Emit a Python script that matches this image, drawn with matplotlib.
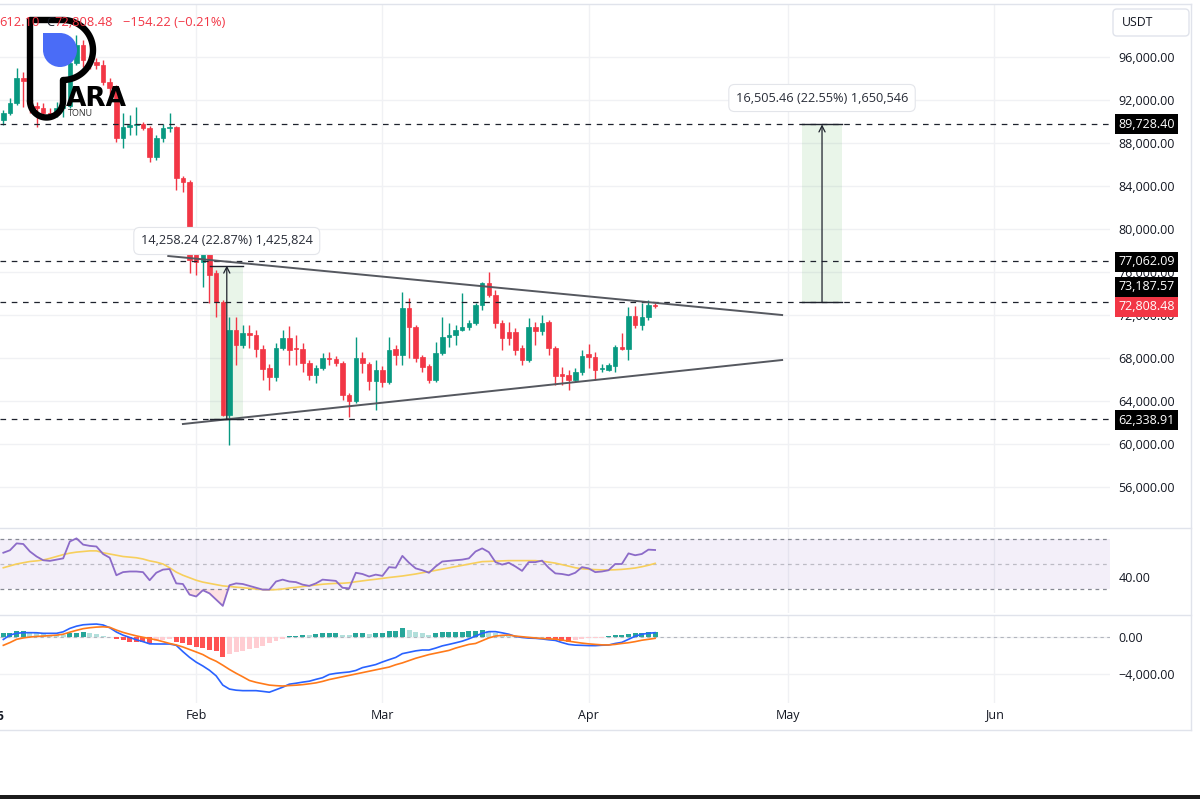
import datetime as dt
import matplotlib
matplotlib.use("Agg")
import matplotlib.pyplot as plt
import matplotlib.dates as mdates
import matplotlib.transforms as mtransforms
from matplotlib.patches import Rectangle, Circle, FancyBboxPatch
import numpy as np

plt.rcParams['font.family'] = ['Open Sans', 'DejaVu Sans']

# ---------------- data ----------------
start_date = dt.datetime(2026, 1, 3)

opens = [90140, 90791, 91721, 94047, 93768, 91400, 91256, 90791, 90700, 91256,
         91442, 95442, 97116, 95721, 95535, 95256, 93674, 93116, 88465, 89488,
         89700, 89800, 89395, 86698, 88465, 89395, 89488, 84744, 84372, 78791,
         76931, 78791, 75907, 73209, 62698, 70605, 69209, 70326, 70140, 68837,
         67070, 66233, 68930, 69860, 68930, 68837, 67535, 66419, 67070, 68000,
         67907, 67535, 64559, 63977, 68000, 67442, 65861, 66884, 65768, 68837,
         68279, 72652, 70884, 68093, 67256, 65954, 68465, 69953, 70140, 70605,
         70884, 71256, 72931, 74977, 73861, 71256, 70419, 70419, 68930, 67815,
         70884, 70512, 71349, 68930, 66512, 66419, 65954, 66698, 68372, 68093,
         66977, 66884, 67256, 69023, 68837, 71907, 71070, 71814, 72962.70]
highs = [91070, 92186, 94977, 94605, 94200, 91814, 91721, 91256, 91800, 92279,
         96372, 98046, 97581, 96000, 95900, 95721, 94047, 93395, 90791, 90605,
         91349, 89953, 89581, 88744, 89767, 90791, 89581, 84930, 84558, 79163,
         79163, 78977, 76187, 73396, 71814, 71814, 71070, 71070, 70605, 69209,
         67442, 69395, 70605, 70977, 70140, 69395, 67815, 67349, 68465, 68558,
         68186, 67721, 64745, 69953, 68558, 67628, 67815, 67256, 69953, 69209,
         74140, 73582, 71070, 68279, 67442, 69488, 71814, 71256, 71070, 74047,
         71536, 73116, 75070, 76001, 74326, 71536, 71349, 70791, 69209, 71721,
         71349, 71977, 71536, 69116, 67163, 66884, 67070, 68745, 69302, 68558,
         67442, 67535, 69209, 70326, 72745, 72838, 73116, 73396, 73100]
lows = [89674, 90605, 91535, 91349, 90800, 89488, 90419, 90419, 90400, 90419,
        91256, 95300, 95070, 94900, 94900, 93395, 92465, 88093, 87535, 88744,
        88744, 89209, 86233, 86419, 88093, 89023, 83628, 83442, 75907, 75721,
        74605, 73116, 71814, 62605, 59907, 67349, 68930, 68930, 68093, 65954,
        65024, 65861, 68745, 67349, 67349, 66698, 65954, 65675, 66884, 67349,
        67256, 64094, 62512, 63814, 66605, 65024, 63164, 65303, 65582, 67349,
        67349, 68000, 67628, 66698, 65675, 65768, 68279, 69023, 69209, 70512,
        70605, 71070, 72466, 73675, 70791, 68745, 69209, 68279, 67349, 67628,
        69209, 70140, 68279, 65489, 65489, 65024, 65768, 66419, 67070, 65954,
        66698, 66791, 66698, 68745, 67815, 70791, 70605, 71536, 72612.10]
closes = [90791, 91721, 94047, 93768, 91400, 91256, 90791, 90700, 91256, 91442,
          95442, 97116, 95721, 95535, 95256, 93674, 93116, 88465, 89488, 89700,
          89800, 89395, 86698, 88465, 89395, 89488, 84744, 84372, 77117, 76931,
          78791, 75721, 73209, 62698, 70605, 69209, 70326, 70140, 68837, 66977,
          66233, 68930, 69860, 68745, 68837, 67535, 66419, 67070, 68000, 67907,
          67535, 64559, 63977, 68000, 67535, 65861, 66884, 65768, 68745, 68279,
          72652, 70884, 68000, 67163, 65954, 68465, 69953, 70140, 70605, 70884,
          71256, 72931, 74977, 73861, 71256, 69860, 69860, 68745, 67815, 70884,
          70512, 71256, 68930, 66326, 66326, 65954, 66698, 68186, 68093, 66884,
          67070, 67349, 69070, 68837, 71907, 71070, 71814, 72962.70, 72808.48]

rsi = [59, 61, 66.5, 66, 60, 56, 53, 52.5, 53.5, 54.5,
       68, 70.5, 65.5, 64.5, 64, 58, 55, 41, 43.5, 44,
       44, 43.5, 37, 43, 45.5, 46, 34.5, 34, 25.5, 24,
       29, 26.5, 21.5, 16.5, 33, 34.5, 34, 32.5, 31, 29.5,
       29.5, 36, 37.5, 36, 35.5, 33.5, 32.5, 34.5, 37.5, 37,
       36.5, 31, 30.5, 43, 42, 40, 41.5, 40.5, 47.5, 47,
       56.5, 51, 46.5, 45, 43, 48, 52, 52.5, 53, 53.5,
       54.5, 60, 62.5, 59.5, 51.5, 49.5, 51, 48, 44.5, 51.5,
       51.5, 52.7, 47, 42.5, 42, 41, 43, 47.5, 46.5, 43.5,
       44, 45, 50, 50, 58.5, 57, 58, 61.5, 61.2]
rsi_ma = [47, 48.5, 50, 51, 52, 52.5, 53.2, 54.5, 56, 57.5,
          58.7, 59.5, 60, 60.5, 60.5, 59, 58, 57, 56, 55.5,
          55, 54, 52.5, 51.5, 50, 47, 43.5, 41, 39, 37,
          35.5, 34.5, 33.5, 32.5, 32, 31.5, 31, 30.5, 30, 29.5,
          29.3, 29.5, 30, 30.8, 31.3, 32, 32.6, 33.2, 33.8, 34.2,
          34.5, 34.6, 35, 35.8, 36.5, 37.2, 37.8, 38.5, 39.2, 39.8,
          40.4, 41.2, 42, 43, 43.9, 44.9, 45.9, 46.9, 47.9, 48.9,
          49.9, 50.9, 51.9, 52.1, 52.3, 52.5, 52.7, 52.7, 52.7, 52.7,
          52.7, 52.2, 51.5, 50.7, 49.5, 48.3, 47, 46.2, 45.8, 45.5,
          45.3, 45.2, 45.4, 45.7, 46.2, 46.8, 47.8, 49, 50.5]
macd = [-270, 216, 400, 468, 468, 460, 396, 396, 396, 560,
        930, 1170, 1320, 1370, 1400, 1300, 1000, 540, 200, -50,
        -300, -500, -740, -756, -756, -756, -900, -1580, -2200, -2720,
        -3130, -3600, -4200, -5200, -5630, -5750, -5800, -5800, -5800, -5880,
        -5970, -5700, -5430, -5100, -5000, -4880, -4780, -4580, -4400, -4050,
        -3930, -3850, -3780, -3620, -3310, -3150, -2980, -2700, -2450, -2210,
        -1800, -1650, -1500, -1405, -1405, -1200, -960, -800, -630, -450,
        -200, 100, 400, 580, 580, 450, 300, 60, -50, -120,
        -144, -210, -300, -370, -600, -800, -880, -900, -930, -935,
        -890, -870, -700, -580, -250, 80, 300, 400, 468]
signal = [-900, -600, -250, -100, 0, 60, 100, 150, 200, 300,
          520, 720, 900, 1000, 1070, 1100, 1045, 750, 500, 300,
          120, -30, -170, -310, -500, -700, -860, -1080, -1350, -1620,
          -1900, -2300, -2620, -3050, -3510, -3920, -4300, -4700, -4900, -5050,
          -5200, -5260, -5300, -5250, -5210, -5150, -5060, -4960, -4800, -4600,
          -4450, -4300, -4150, -4000, -3850, -3700, -3550, -3400, -3250, -3000,
          -2800, -2550, -2300, -2100, -1900, -1750, -1600, -1450, -1200, -1000,
          -800, -700, -400, -100, 100, 180, 210, 100, 30, -40,
          -100, -160, -200, -230, -330, -450, -560, -660, -740, -800,
          -850, -860, -800, -700, -620, -500, -350, -250, -144]
hist = [400, 470, 650, 690, 470, 400, 300, 220, 200, 180,
        400, 480, 500, 400, 300, 150, 50, -180, -290, -500,
        -510, -520, -720, -450, -300, -180, -500, -650, -900, -1100,
        -1200, -1450, -1550, -2150, -1800, -1650, -1500, -1300, -1150, -950,
        -700, -450, -200, 60, 120, 200, 180, 300, 400, 420,
        430, 250, 200, 400, 420, 300, 420, 450, 600, 700,
        1000, 750, 550, 400, 250, 450, 500, 520, 540, 560,
        600, 700, 800, 600, 400, 250, 100, 30, -120, -60,
        -30, -20, -200, -350, -450, -500, -300, -200, -150, -100,
        -60, 80, 200, 250, 350, 380, 420, 500, 520]

levels = [89728.40, 77062.09, 73187.57, 62338.91]
level_labels = ["89,728.40", "77,062.09", "73,187.57", "62,338.91"]
last_price = 72808.48
last_label = "72,808.48"
price_ticks = [56000, 60000, 64000, 68000, 72000, 76000, 80000, 84000, 88000, 92000, 96000]

# trend lines: (day offset from start_date, price)
upper_line = [(24.8, 77488), (117.1, 71999)]
lower_line = [(27.0, 61861), (117.1, 67815)]

# measurement tools: (day_left, day_right, day_arrow, base, top, label, label_price)
measures = [
    (31.1, 36.05, 33.6, 62338.91, 76597.15, "14,258.24 (22.87%) 1,425,824", 78885),
    (120.1, 126.1, 123.1, 73222.94, 89728.40, "16,505.46 (22.55%) 1,650,546", 92186),
]

month_ticks = [dt.datetime(2026, 2, 1), dt.datetime(2026, 3, 1), dt.datetime(2026, 4, 1),
               dt.datetime(2026, 5, 1), dt.datetime(2026, 6, 1)]
month_labels = ["Feb", "Mar", "Apr", "May", "Jun"]

# ---------------- helpers ----------------
def dnum(offset):
    return mdates.date2num(start_date + dt.timedelta(days=offset))

n = len(opens)
xs = np.array([dnum(k) for k in range(n)])
mt = [mdates.date2num(d) for d in month_ticks]

W, H = 1200, 799
fig = plt.figure(figsize=(12, 7.99), dpi=100)
fig.patch.set_facecolor('white')

AX_R = 1110 / W
def fy(px):
    return 1 - px / H

ax = fig.add_axes([0, fy(527), AX_R, (527 - 4) / H])
ax_rsi = fig.add_axes([0, fy(613), AX_R, (613 - 529) / H])
ax_macd = fig.add_axes([0, fy(703), AX_R, (703 - 616) / H])

xlim = (dnum(-0.5), dnum(166.4))
TXT = '#131722'
GRID = '#f0f1f4'
for a in (ax, ax_rsi, ax_macd):
    a.set_xlim(*xlim)
    for s in a.spines.values():
        s.set_visible(False)
    a.set_xticks(mt)
    a.tick_params(axis='x', length=0, labelbottom=False)
    a.grid(True, axis='x', color=GRID, lw=1)
    a.yaxis.tick_right()
    a.tick_params(axis='y', length=0, pad=6, labelsize=9, labelcolor=TXT)
    a.set_axisbelow(True)

# ---- main price panel ----
ax.set_ylim(52281, 100930)
ax.set_yticks(price_ticks)
ax.set_yticklabels([f"{v:,.2f}" for v in price_ticks])
ax.grid(True, axis='y', color=GRID, lw=1)

o = np.array(opens); h = np.array(highs); l = np.array(lows); c = np.array(closes)
cols = np.where(c >= o, '#089981', '#f23645')
ax.vlines(xs, l, h, colors=cols, lw=1, zorder=2)
ax.bar(xs, np.abs(c - o), bottom=np.minimum(o, c), width=0.68, color=cols,
       edgecolor=cols, lw=0.5, zorder=2.1)

for lv in levels:
    ax.axhline(lv, color='#1e222d', lw=0.9, ls=(0, (4.5, 4.5)), zorder=3)

for ln in (upper_line, lower_line):
    ax.plot([dnum(p[0]) for p in ln], [p[1] for p in ln], color='#55585f', lw=1.4, zorder=3.2)

for (d1, d2, da, base, top, lab, ly) in measures:
    x1, x2, xa = dnum(d1), dnum(d2), dnum(da)
    ax.add_patch(Rectangle((x1, base), x2 - x1, top - base, fc='#4caf50', alpha=0.12, lw=0, zorder=1.8))
    ax.plot([x1, x2], [top, top], color='#1e222d', lw=1, zorder=3.5)
    ax.plot([x1, x2], [base, base], color='#1e222d', lw=1, zorder=3.5)
    ax.annotate('', xy=(xa, top), xytext=(xa, base),
                arrowprops=dict(arrowstyle='->', color='#1e222d', lw=0.9,
                                shrinkA=0, shrinkB=0, mutation_scale=11), zorder=3.6)
    ax.text(xa, ly, lab, ha='center', va='center', fontsize=9.2, color='#2a2e39', zorder=6,
            bbox=dict(boxstyle='round,pad=0.55,rounding_size=0.45', fc='white', ec='#e3e5ea', lw=0.8))

trans = mtransforms.blended_transform_factory(ax.transAxes, ax.transData)
label_pos = [levels[0], levels[1] - 100, levels[2] + 1450, levels[3] - 150]
for lab, yv in zip(level_labels, label_pos):
    ax.text(1 + 8 / 1110, yv, lab, transform=trans, ha='left', va='center', fontsize=9,
            color='white', clip_on=False, zorder=10,
            bbox=dict(boxstyle='square,pad=0.28', fc='#000000', ec='none'))
ax.text(1 + 8 / 1110, last_price - 30, last_label, transform=trans, ha='left', va='center',
        fontsize=9, color='white', clip_on=False, zorder=10,
        bbox=dict(boxstyle='square,pad=0.28', fc='#f23645', ec='none'))

# ---- RSI panel ----
r = np.array(rsi)
ax_rsi.set_ylim(10.8, 78)
ax_rsi.axhspan(30, 70, color='#7e57c2', alpha=0.09, lw=0)
for lv, al in ((70, 1), (50, 0.5), (30, 1)):
    ax_rsi.axhline(lv, color='#868993', alpha=al, lw=0.9, ls=(0, (3, 3)))
ax_rsi.fill_between(xs, r, 30, where=r < 30, interpolate=True, color='#f23645', alpha=0.15, lw=0)
ax_rsi.plot(xs, rsi_ma, color='#f7cf5c', lw=1.2)
ax_rsi.plot(xs, r, color='#8c6bc8', lw=1.3)
ax_rsi.set_yticks([40])
ax_rsi.set_yticklabels(["40.00"])

# ---- MACD panel ----
ax_macd.set_ylim(-7135, 2270)
ax_macd.set_yticks([-4000, 0])
ax_macd.set_yticklabels(["\u22124,000.00", "0.00"])
ax_macd.grid(True, axis='y', color=GRID, lw=1)
hc = []
prev = None
for v in hist:
    grow = prev is None or v >= prev
    if v >= 0:
        hc.append('#26a69a' if grow else '#b2dfdb')
    else:
        hc.append('#ffcdd2' if grow else '#ff5252')
    prev = v
ax_macd.axhline(0, color='#b2b5be', lw=0.8, ls=(0, (3, 3)))
ax_macd.bar(xs, hist, width=0.75, color=hc, lw=0, zorder=2)
ax_macd.plot(xs, macd, color='#2962ff', lw=1.2, zorder=3)
ax_macd.plot(xs, signal, color='#ff7a1a', lw=1.2, zorder=3)
ax_macd.tick_params(axis='x', labelbottom=True, labelsize=9, labelcolor=TXT, pad=4)
ax_macd.set_xticklabels(month_labels)

# ---------------- overlay (frame, logo, header) ----------------
ov = fig.add_axes([0, 0, 1, 1], zorder=10)
ov.set_xlim(0, W)
ov.set_ylim(H, 0)
ov.axis('off')
ov.patch.set_alpha(0)

FR = '#e0e3eb'
for yy in (4, 528, 615, 730):
    ov.plot([0, 1191], [yy, yy], color=FR, lw=1)
ov.plot([1191, 1191], [4, 730], color=FR, lw=1)
ov.add_patch(Rectangle((0, 795), W, 4, fc='#1c1c1c', lw=0))

ov.add_patch(FancyBboxPatch((1113, 9), 76, 27, boxstyle='round,pad=0,rounding_size=4',
                            fc='white', ec=FR, lw=1))
ov.text(1122, 22.5, "USDT", ha='left', va='center', fontsize=8.8, color=TXT)

ov.text(-10, 716, "2026", ha='center', va='center', fontsize=9, color=TXT, weight='bold')

RED = '#f23645'
ov.text(-1, 22, "612.10", ha='left', va='center', fontsize=9.3, color=RED)
ov.text(46, 22, "C", ha='left', va='center', fontsize=9.3, color=TXT)
ov.text(54, 22, "72,808.48", ha='left', va='center', fontsize=9.3, color=RED)
ov.text(123, 22, "\u2212154.22 (\u22120.21%)", ha='left', va='center', fontsize=9.3, color=RED)

# logo
ov.add_patch(Rectangle((43, 33), 17, 17, fc='#4a6cf7', lw=0))
ov.add_patch(Circle((60, 50), 17, fc='#4a6cf7', lw=0))
t1 = np.linspace(-np.pi / 2, np.pi / 2, 60)
t2 = np.linspace(0, np.pi, 60)
px = np.concatenate([[30, 30, 63], 63 + 30 * np.cos(t1), [63], 46.5 + 16.5 * np.cos(t2), [30]])
py = np.concatenate([[101, 20, 20], 50 + 30 * np.sin(t1), [101], 101 + 16.5 * np.sin(t2), [101]])
ov.plot(px, py, color='black', lw=4.6, solid_joinstyle='round', solid_capstyle='round')
ov.text(66, 106, "ARA", ha='left', va='baseline', fontsize=19, weight='bold', color='black',
        family='DejaVu Sans')
ov.text(68, 113.5, "TONU", ha='left', va='center', fontsize=6.5, color='#333333')

fig.savefig("out.png", dpi=100, facecolor='white')
